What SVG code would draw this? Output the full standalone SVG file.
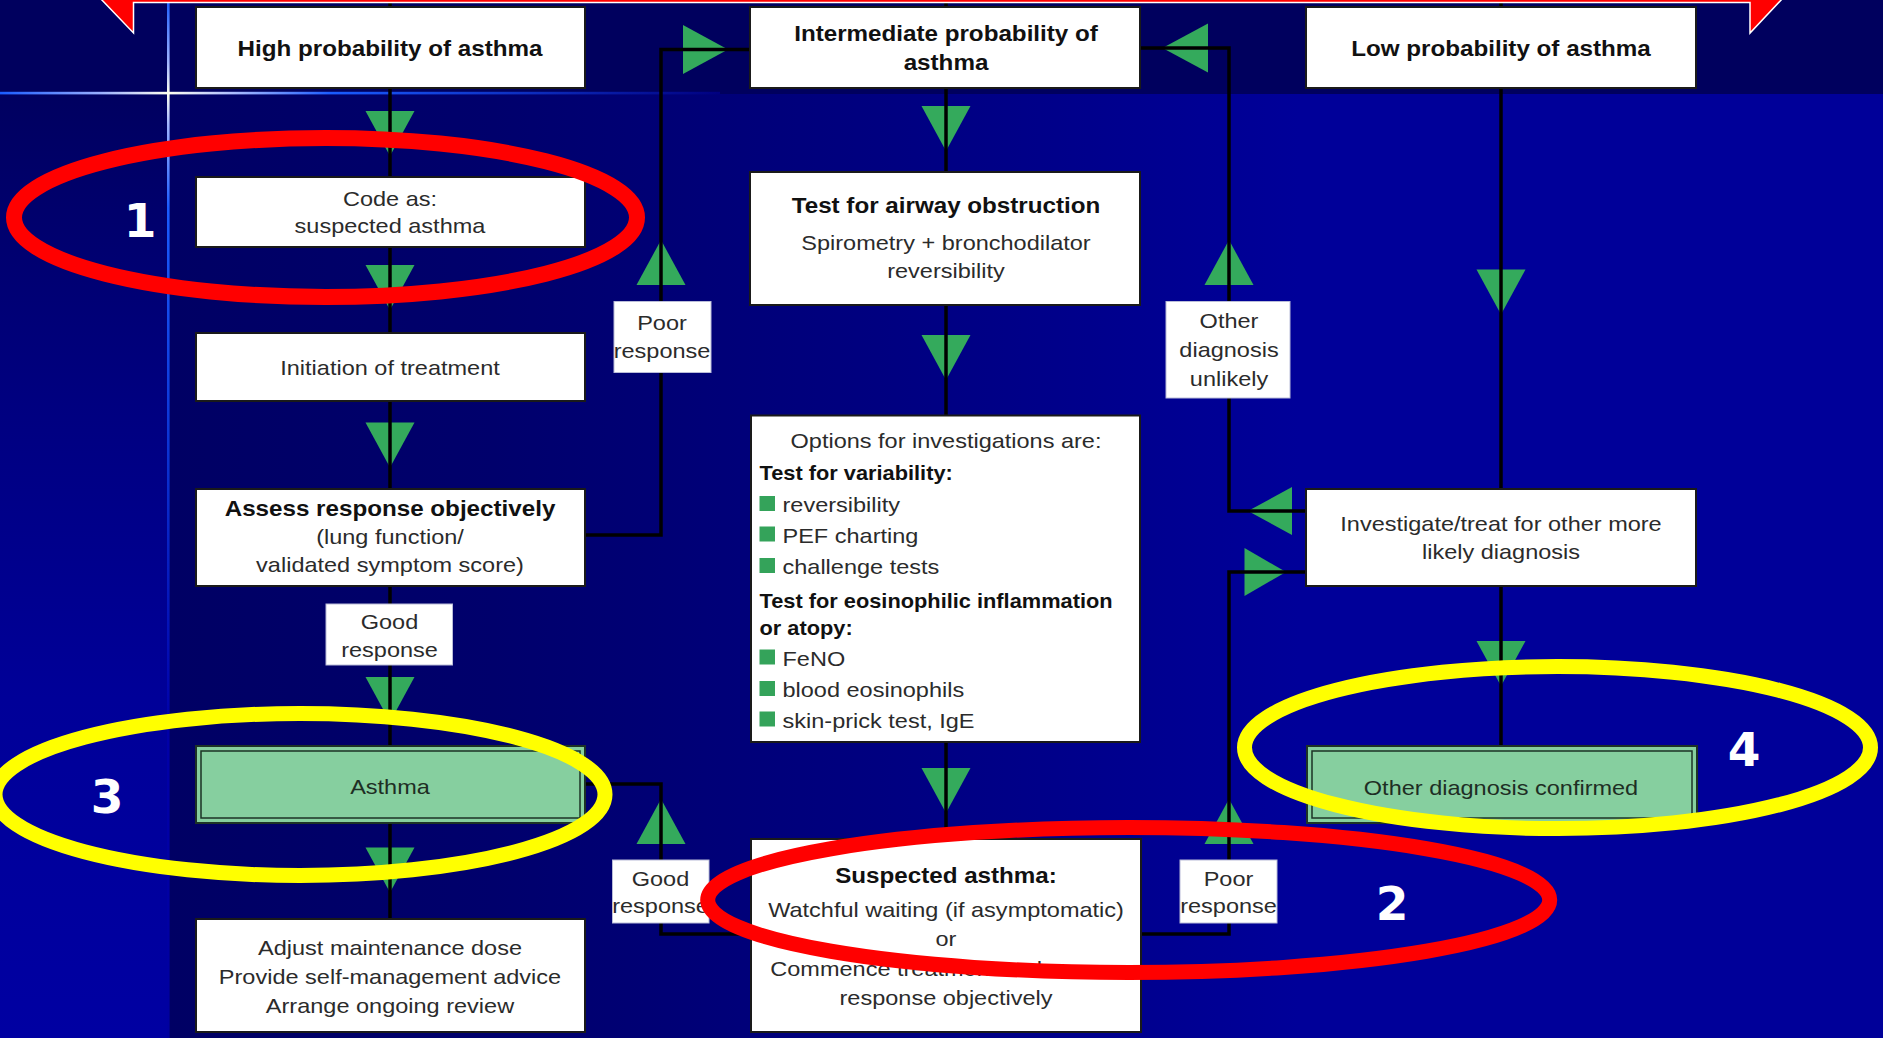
<svg xmlns="http://www.w3.org/2000/svg" width="1883" height="1038" viewBox="0 0 1883 1038">
<defs>
<style>
.box{fill:#fff;stroke:#1a1a1a;stroke-width:2}
.lbl{fill:#fff;stroke:#b9bcd8;stroke-width:1}
.gbox{fill:#86cf9f;stroke:#1d3326;stroke-width:2}
.gin{fill:none;stroke:#1d3326;stroke-width:1.5}
.tri{fill:#34aa5c}
.sq{fill:#34a35a}
.ln{fill:none;stroke:#000;stroke-width:3.5}
.b{font-family:"Liberation Sans",Arial,sans-serif;font-weight:bold;font-size:22px;fill:#111;text-anchor:middle}
.r{font-family:"Liberation Sans",Arial,sans-serif;font-size:21px;fill:#2b2b2b;text-anchor:middle}
.g{font-family:"Liberation Sans",Arial,sans-serif;font-size:21px;fill:#1e2e24;text-anchor:middle}
.ob{font-family:"Liberation Sans",Arial,sans-serif;font-weight:bold;font-size:20px;fill:#111}
.ol{font-family:"Liberation Sans",Arial,sans-serif;font-size:21px;fill:#2b2b2b}
.num{font-family:"DejaVu Sans",Verdana,sans-serif;font-weight:bold;font-size:47px;fill:#fff;text-anchor:middle}
.red{fill:none;stroke:#ff0000}
.yel{fill:none;stroke:#ffff00}
</style>
<linearGradient id="bgMain" gradientUnits="userSpaceOnUse" x1="168" y1="0" x2="1883" y2="0">
<stop offset="0" stop-color="#000064"/>
<stop offset="0.19" stop-color="#00006c"/>
<stop offset="0.48" stop-color="#000086"/>
<stop offset="0.66" stop-color="#000099"/>
<stop offset="1" stop-color="#000099"/>
</linearGradient>
<linearGradient id="bgLeft" gradientUnits="userSpaceOnUse" x1="0" y1="94" x2="0" y2="1038">
<stop offset="0" stop-color="#000060"/>
<stop offset="0.33" stop-color="#000080"/>
<stop offset="0.64" stop-color="#000098"/>
<stop offset="1" stop-color="#0000a2"/>
</linearGradient>
<linearGradient id="hLine" gradientUnits="userSpaceOnUse" x1="0" y1="0" x2="720" y2="0">
<stop offset="0" stop-color="#1a5cff"/>
<stop offset="0.14" stop-color="#9ab0ff"/>
<stop offset="0.233" stop-color="#fffff0"/>
<stop offset="0.32" stop-color="#b0c0ff"/>
<stop offset="0.46" stop-color="#1a5cff"/>
<stop offset="1" stop-color="#000080"/>
</linearGradient>
<linearGradient id="vLine" gradientUnits="userSpaceOnUse" x1="0" y1="0" x2="0" y2="1038">
<stop offset="0" stop-color="#1a5cff"/>
<stop offset="0.06" stop-color="#a0b4ff"/>
<stop offset="0.09" stop-color="#fffff0"/>
<stop offset="0.12" stop-color="#a0b4ff"/>
<stop offset="0.2" stop-color="#1a5cff"/>
<stop offset="0.45" stop-color="#0a30d0"/>
<stop offset="0.7" stop-color="#0000a8"/>
<stop offset="1" stop-color="#0000a0"/>
</linearGradient>
</defs>

<g id="background">
<rect x="0" y="0" width="1883" height="1038" fill="url(#bgMain)"/>
<rect x="0" y="94" width="168" height="944" fill="url(#bgLeft)"/>
<rect x="0" y="0" width="1883" height="94" fill="#00005e"/>
<rect x="0" y="91.8" width="720" height="2.6" fill="url(#hLine)"/>
<rect x="167" y="0" width="2.6" height="1038" fill="url(#vLine)"/>
</g>

<g id="arrowheads">
<polygon class="tri" points="365.5,111 414.5,111 390,156"/>
<polygon class="tri" points="365.5,265 414.5,265 390,310"/>
<polygon class="tri" points="365.5,422.5 414.5,422.5 390,467.5"/>
<polygon class="tri" points="365.5,677 414.5,677 390,722"/>
<polygon class="tri" points="365.5,847.5 414.5,847.5 390,892.5"/>
<polygon class="tri" points="921.5,106 970.5,106 946,151"/>
<polygon class="tri" points="921.5,335 970.5,335 946,380"/>
<polygon class="tri" points="921.5,768 970.5,768 946,813"/>
<polygon class="tri" points="1476.5,269.5 1525.5,269.5 1501,314.5"/>
<polygon class="tri" points="1476.5,641 1525.5,641 1501,686"/>
<polygon class="tri" points="661,240 685.5,285 636.5,285"/>
<polygon class="tri" points="1229,240 1253.5,285 1204.5,285"/>
<polygon class="tri" points="661,799 685.5,844 636.5,844"/>
<polygon class="tri" points="1229,799 1253.5,844 1204.5,844"/>
<polygon class="tri" points="683,25 728,49.5 683,74"/>
<polygon class="tri" points="1208,23.5 1162.5,48 1208,72.5"/>
<polygon class="tri" points="1292,487 1248,511 1292,535"/>
<polygon class="tri" points="1244.5,548 1286,572 1244.5,596"/>
</g>

<g id="connectors">
<path class="ln" d="M390,0 V919"/>
<path class="ln" d="M946,0 V839"/>
<path class="ln" d="M1501,0 V746"/>
<path class="ln" d="M585,535 H661 V49.5 H750"/>
<path class="ln" d="M1306,511 H1229 V48 H1140"/>
<path class="ln" d="M1141,934 H1229 V572 H1306"/>
<path class="ln" d="M751,934 H661 V784 H585"/>
</g>

<g id="top-arrow">
<polygon points="100,-2 133.5,33 133.5,2.5 1750,2.5 1750,33 1783,-2" fill="#ff0000" stroke="#ffffff" stroke-width="1.5"/>
</g>

<g id="high">
<rect class="box" x="196" y="7" width="389" height="81"/>
<text class="b" transform="translate(390,56) scale(1.1,1)">High probability of asthma</text>
</g>
<g id="intermediate">
<rect class="box" x="750" y="7" width="390" height="81"/>
<text class="b" transform="translate(946,40.5) scale(1.1,1)"><tspan x="0">Intermediate probability of</tspan><tspan x="0" dy="29.5">asthma</tspan></text>
</g>
<g id="low">
<rect class="box" x="1306" y="7" width="390" height="81"/>
<text class="b" transform="translate(1501,56) scale(1.1,1)">Low probability of asthma</text>
</g>

<g id="code">
<rect class="box" x="196" y="177" width="389" height="70"/>
<text class="r" transform="translate(390,205.5) scale(1.12,1)"><tspan x="0">Code as:</tspan><tspan x="0" dy="27.5">suspected asthma</tspan></text>
</g>
<g id="initiation">
<rect class="box" x="196" y="333" width="389" height="68"/>
<text class="r" transform="translate(390,375) scale(1.12,1)">Initiation of treatment</text>
</g>
<g id="assess">
<rect class="box" x="196" y="489" width="389" height="97"/>
<text class="b" transform="translate(390,515.5) scale(1.1,1)">Assess response objectively</text>
<text class="r" transform="translate(390,544) scale(1.12,1)"><tspan x="0">(lung function/</tspan><tspan x="0" dy="28">validated symptom score)</tspan></text>
</g>
<g id="asthma">
<rect class="gbox" x="196" y="746" width="389" height="77"/>
<rect class="gin" x="201" y="751" width="379" height="67"/>
<text class="g" transform="translate(390,794) scale(1.12,1)">Asthma</text>
</g>
<g id="adjust">
<rect class="box" x="196" y="919" width="389" height="113"/>
<text class="r" transform="translate(390,955) scale(1.12,1)"><tspan x="0">Adjust maintenance dose</tspan><tspan x="0" dy="29">Provide self-management advice</tspan><tspan x="0" dy="29">Arrange ongoing review</tspan></text>
</g>

<g id="test">
<rect class="box" x="750" y="172" width="390" height="133"/>
<text class="b" transform="translate(946,213) scale(1.1,1)">Test for airway obstruction</text>
<text class="r" transform="translate(946,250) scale(1.12,1)"><tspan x="0">Spirometry + bronchodilator</tspan><tspan x="0" dy="28.3">reversibility</tspan></text>
</g>
<g id="options">
<rect class="box" x="751" y="415.5" width="389" height="326.5"/>
<text class="r" transform="translate(946,448) scale(1.12,1)">Options for investigations are:</text>
<text class="ob" transform="translate(759.5,480) scale(1.09,1)">Test for variability:</text>
<rect class="sq" x="759.5" y="496" width="15.5" height="15"/>
<text class="ol" transform="translate(782.5,512) scale(1.12,1)">reversibility</text>
<rect class="sq" x="759.5" y="526.5" width="15.5" height="15"/>
<text class="ol" transform="translate(782.5,542.5) scale(1.12,1)">PEF charting</text>
<rect class="sq" x="759.5" y="558" width="15.5" height="15"/>
<text class="ol" transform="translate(782.5,574) scale(1.12,1)">challenge tests</text>
<text class="ob" transform="translate(759.5,607.5) scale(1.09,1)">Test for eosinophilic inflammation</text>
<text class="ob" transform="translate(759.5,634.5) scale(1.09,1)">or atopy:</text>
<rect class="sq" x="759.5" y="649.5" width="15.5" height="15"/>
<text class="ol" transform="translate(782.5,665.5) scale(1.12,1)">FeNO</text>
<rect class="sq" x="759.5" y="681" width="15.5" height="15"/>
<text class="ol" transform="translate(782.5,697) scale(1.12,1)">blood eosinophils</text>
<rect class="sq" x="759.5" y="711.5" width="15.5" height="15"/>
<text class="ol" transform="translate(782.5,727.5) scale(1.12,1)">skin-prick test, IgE</text>
</g>
<g id="suspected">
<rect class="box" x="751" y="839" width="390" height="193"/>
<text class="b" transform="translate(946,882.5) scale(1.1,1)">Suspected asthma:</text>
<text class="r" transform="translate(946,917) scale(1.12,1)"><tspan x="0">Watchful waiting (if asymptomatic)</tspan><tspan x="0" dy="29.5">or</tspan><tspan x="0" dy="30">Commence treatment and assess</tspan><tspan x="0" dy="28.5">response objectively</tspan></text>
</g>

<g id="investigate">
<rect class="box" x="1306" y="489" width="390" height="97"/>
<text class="r" transform="translate(1501,531) scale(1.12,1)"><tspan x="0">Investigate/treat for other more</tspan><tspan x="0" dy="28.5">likely diagnosis</tspan></text>
</g>
<g id="other-confirmed">
<rect class="gbox" x="1307" y="746" width="390" height="77"/>
<rect class="gin" x="1312" y="751" width="380" height="67"/>
<text class="g" transform="translate(1501,795) scale(1.12,1)">Other diagnosis confirmed</text>
</g>

<g id="label-poor-1">
<rect class="lbl" x="614" y="301.5" width="97" height="71"/>
<text class="r" transform="translate(662,330) scale(1.12,1)"><tspan x="0">Poor</tspan><tspan x="0" dy="28">response</tspan></text>
</g>
<g id="label-other-unlikely">
<rect class="lbl" x="1166" y="301.5" width="124" height="96.5"/>
<text class="r" transform="translate(1229,328) scale(1.12,1)"><tspan x="0">Other</tspan><tspan x="0" dy="29">diagnosis</tspan><tspan x="0" dy="29.5">unlikely</tspan></text>
</g>
<g id="label-good-1">
<rect class="lbl" x="326" y="604" width="126.5" height="61"/>
<text class="r" transform="translate(389.5,629.3) scale(1.12,1)"><tspan x="0">Good</tspan><tspan x="0" dy="27.5">response</tspan></text>
</g>
<g id="label-good-2">
<rect class="lbl" x="612.5" y="860" width="96.5" height="63"/>
<text class="r" transform="translate(660.5,885.5) scale(1.12,1)"><tspan x="0">Good</tspan><tspan x="0" dy="27.5">response</tspan></text>
</g>
<g id="label-poor-2">
<rect class="lbl" x="1180" y="860" width="97" height="63"/>
<text class="r" transform="translate(1228.5,885.5) scale(1.12,1)"><tspan x="0">Poor</tspan><tspan x="0" dy="27.5">response</tspan></text>
</g>

<g id="highlights">
<ellipse class="red" cx="325.5" cy="217.5" rx="311.5" ry="79.5" stroke-width="16"/>
<ellipse class="red" cx="1128.7" cy="900" rx="421" ry="72.5" stroke-width="15"/>
<ellipse class="yel" cx="300" cy="794.5" rx="305" ry="81" stroke-width="15"/>
<ellipse class="yel" cx="1557.5" cy="747.6" rx="313" ry="81" stroke-width="15"/>
<text class="num" x="140" y="237">1</text>
<text class="num" x="1392" y="920">2</text>
<text class="num" x="107" y="813">3</text>
<text class="num" x="1744" y="766">4</text>
</g>
</svg>
